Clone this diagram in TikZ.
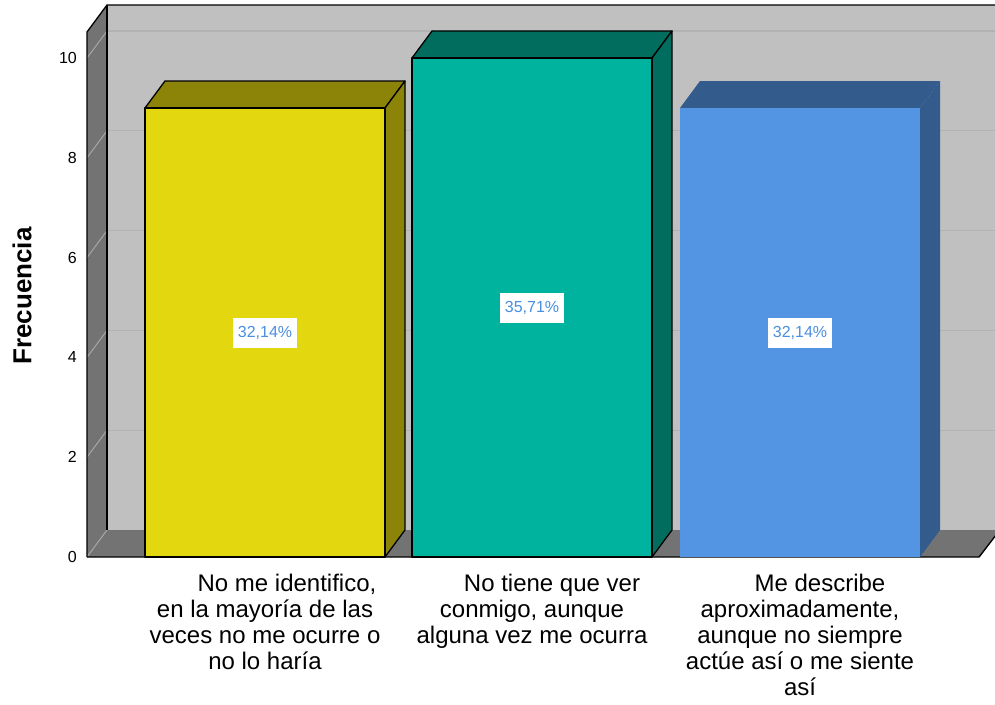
\documentclass[tikz,border=0pt]{standalone}
\usepackage{fontspec}
\setmainfont{Liberation Sans}

\definecolor{wallgray}{HTML}{C0C0C0}
\definecolor{sidegray}{HTML}{737373}
\definecolor{gridback}{HTML}{B2B2B2}
\definecolor{gridside}{HTML}{A6A6A6}
\definecolor{yellowfront}{HTML}{E3D80F}
\definecolor{yellowdark}{HTML}{8C8408}
\definecolor{tealfront}{HTML}{00B39E}
\definecolor{tealdark}{HTML}{006D5E}
\definecolor{bluefront}{HTML}{5394E3}
\definecolor{bluedark}{HTML}{335B8C}
\definecolor{pcttext}{HTML}{4A8FE0}

\tikzset{
    barline/.style={draw=black, line width=1.3pt, line join=round},
    pctlabel/.style={fill=white, text=pcttext, minimum width=64pt, minimum height=30pt,
        inner sep=0pt, font=\fontsize{16}{16}\selectfont},
    catlabel/.style={anchor=north, align=center, inner sep=0pt,
        font=\fontsize{24}{26}\selectfont},
    ticklabel/.style={anchor=east, inner sep=0pt, font=\fontsize{16}{16}\selectfont}
}

\begin{document}
\begin{tikzpicture}[x=1pt, y=-1pt]
        \clip (0,0) rectangle (995,704);

        % back wall
        \fill[wallgray] (107,5) rectangle (995,530);

        % left wall
        \fill[sidegray] (87,32) -- (107,5) -- (107,530) -- (87,557) -- cycle;

        % floor
        \fill[sidegray] (87,557) -- (107,530) -- (1000,530) -- (980,557) -- cycle;

        % grid lines
        \foreach \v in {2,4,...,10} {
            \draw[gridback, line width=1.2pt] (107,530-49.9*\v) -- (995,530-49.9*\v);
            \draw[gridside, line width=1pt] (87,557-49.9*\v) -- (107,530-49.9*\v);
            \node[ticklabel] (tick\v) at (77,557-49.9*\v) {\v};
        }
        \node[ticklabel] (tick0) at (77,557) {0};
        \draw[gridside, line width=1pt] (87,557) -- (107,530);

        % frame
        \draw[line width=1.3pt] (87,557) -- (87,32) -- (107,5) -- (995,5);
        \draw[line width=1.3pt] (107,5) -- (107,530);
        \draw[line width=1.3pt] (87,557) -- (979,557) -- (996,535);

        % axis title
        \node[rotate=90, font=\fontsize{26}{26}\selectfont\bfseries] (ytitle) at (22,296) {Frecuencia};

        % bar 1
        \draw[barline, fill=yellowdark] (145,108) -- (165,81) -- (405,81) -- (385,108) -- cycle;
        \draw[barline, fill=yellowdark] (385,108) -- (405,81) -- (405,530) -- (385,557) -- cycle;
        \draw[barline, fill=yellowfront] (145,108) rectangle (385,557);
        \node[pctlabel] (pct1) at (265,333) {32,14\%};

        % bar 2
        \draw[barline, fill=tealdark] (412,58) -- (432,31) -- (672,31) -- (652,58) -- cycle;
        \draw[barline, fill=tealdark] (652,58) -- (672,31) -- (672,530) -- (652,557) -- cycle;
        \draw[barline, fill=tealfront] (412,58) rectangle (652,557);
        \node[pctlabel] (pct2) at (532,308) {35,71\%};

        % bar 3
        \fill[bluedark] (680,108) -- (700,81) -- (940,81) -- (920,108) -- cycle;
        \fill[bluedark] (920,108) -- (940,81) -- (940,530) -- (920,557) -- cycle;
        \fill[bluefront] (680,108) rectangle (920,557);
        \node[pctlabel] (pct3) at (800,333) {32,14\%};

        % category labels
        \node[catlabel] (cat1) at (265,574) {\hspace*{44pt}No me identifico,\\en la mayoría de las\\veces no me ocurre o\\no lo haría};
        \node[catlabel] (cat2) at (532,574) {\hspace*{40pt}No tiene que ver\\conmigo, aunque\\alguna vez me ocurra};
        \node[catlabel] (cat3) at (800,574) {\hspace*{40pt}Me describe\\aproximadamente,\\aunque no siempre\\actúe así o me siente\\así};
\end{tikzpicture}
\end{document}
